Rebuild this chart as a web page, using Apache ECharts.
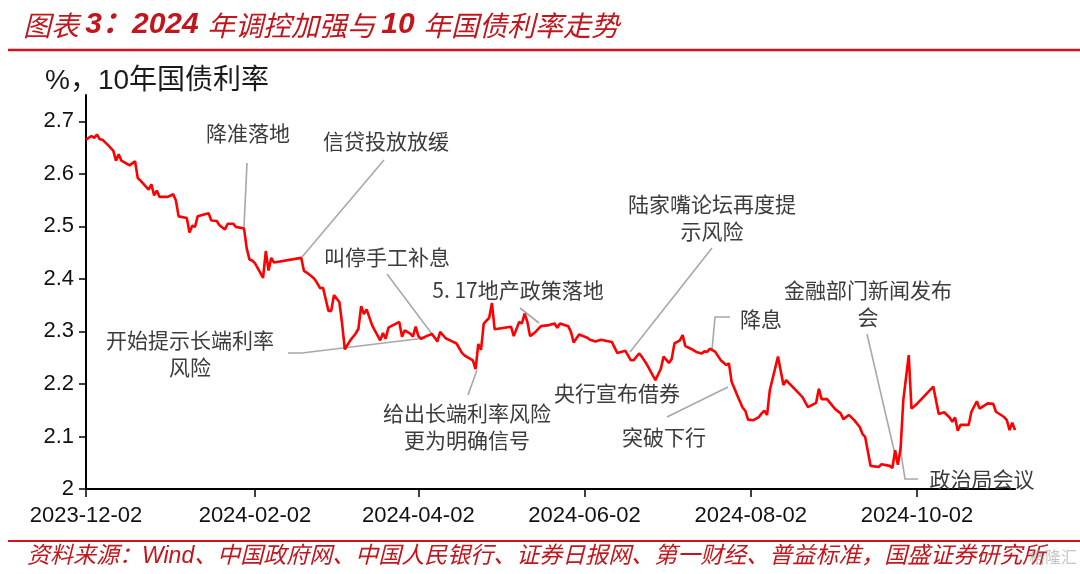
<!DOCTYPE html>
<html>
<head>
<meta charset="UTF-8">
<title>2024年调控加强与10年国债利率走势</title>
<script src="https://cdn.jsdelivr.net/npm/echarts@6/dist/echarts.min.js"></script>
<style>
	html,body{margin:0;padding:0;background:#fff;}
	#main{width:1080px;height:574px;}
</style>
</head>
<body>
<div id="main"></div>
<script>
	// axis range and tick labels
	var startDate = '2023-12-02';
	var endDate = '2024-11-07';
	var tickLabels = ['2023-12-02','2024-02-02','2024-04-02','2024-06-02','2024-08-02','2024-10-02'];
	var yTicks = [2, 2.1, 2.2, 2.3, 2.4, 2.5, 2.6, 2.7];

	// 10年国债利率, %
	var dates = [
		'2023-12-02','2023-12-04','2023-12-05','2023-12-06','2023-12-07','2023-12-08','2023-12-10','2023-12-12','2023-12-13','2023-12-14',
		'2023-12-15','2023-12-18','2023-12-20','2023-12-21','2023-12-22','2023-12-25','2023-12-26','2023-12-27','2023-12-28','2023-12-29',
		'2024-01-01','2024-01-03','2024-01-04','2024-01-05','2024-01-08','2024-01-09','2024-01-10','2024-01-11','2024-01-12','2024-01-16',
		'2024-01-17','2024-01-19','2024-01-20','2024-01-22','2024-01-23','2024-01-25','2024-01-26','2024-01-29','2024-01-30','2024-01-31',
		'2024-02-01','2024-02-02','2024-02-05','2024-02-06','2024-02-07','2024-02-08','2024-02-09','2024-02-19','2024-02-20','2024-02-21',
		'2024-02-23','2024-02-24','2024-02-26','2024-02-27','2024-02-29','2024-03-01','2024-03-02','2024-03-04','2024-03-05','2024-03-06',
		'2024-03-08','2024-03-10','2024-03-11','2024-03-12','2024-03-13','2024-03-14','2024-03-16','2024-03-17','2024-03-19','2024-03-20',
		'2024-03-21','2024-03-22','2024-03-26','2024-03-27','2024-03-28','2024-03-30','2024-03-31','2024-04-01','2024-04-02','2024-04-03',
		'2024-04-05','2024-04-07','2024-04-09','2024-04-10','2024-04-12','2024-04-14','2024-04-16','2024-04-18','2024-04-19','2024-04-22',
		'2024-04-23','2024-04-24','2024-04-25','2024-04-26','2024-04-28','2024-04-29','2024-04-30','2024-05-06','2024-05-07','2024-05-09',
		'2024-05-10','2024-05-11','2024-05-12','2024-05-13','2024-05-15','2024-05-17','2024-05-20','2024-05-22','2024-05-23','2024-05-24',
		'2024-05-27','2024-05-28','2024-05-29','2024-05-31','2024-06-03','2024-06-04','2024-06-06','2024-06-08','2024-06-12','2024-06-14',
		'2024-06-17','2024-06-19','2024-06-20','2024-06-22','2024-06-23','2024-06-25','2024-06-28','2024-06-30','2024-07-01','2024-07-03',
		'2024-07-04','2024-07-05','2024-07-07','2024-07-08','2024-07-09','2024-07-11','2024-07-13','2024-07-15','2024-07-16','2024-07-17',
		'2024-07-18','2024-07-20','2024-07-21','2024-07-22','2024-07-24','2024-07-25','2024-07-26','2024-07-28','2024-07-30','2024-07-31',
		'2024-08-01','2024-08-03','2024-08-05','2024-08-06','2024-08-07','2024-08-08','2024-08-09','2024-08-12','2024-08-14','2024-08-15',
		'2024-08-18','2024-08-21','2024-08-23','2024-08-26','2024-08-27','2024-08-28','2024-08-30','2024-09-02','2024-09-04','2024-09-05',
		'2024-09-07','2024-09-09','2024-09-11','2024-09-12','2024-09-13','2024-09-15','2024-09-18','2024-09-19','2024-09-22','2024-09-23',
		'2024-09-24','2024-09-25','2024-09-26','2024-09-27','2024-09-29','2024-09-30','2024-10-02','2024-10-08','2024-10-09','2024-10-10',
		'2024-10-12','2024-10-14','2024-10-15','2024-10-16','2024-10-17','2024-10-18','2024-10-21','2024-10-22','2024-10-24','2024-10-25',
		'2024-10-28','2024-10-30','2024-10-31','2024-11-03','2024-11-04','2024-11-05','2024-11-06','2024-11-07'
	];
	var rates = [
		2.665,2.672,2.668,2.675,2.666,2.665,2.655,2.644,2.625,2.637,
		2.625,2.616,2.624,2.592,2.587,2.570,2.580,2.559,2.568,2.556,
		2.556,2.561,2.549,2.519,2.516,2.488,2.501,2.499,2.519,2.525,
		2.511,2.510,2.502,2.494,2.505,2.505,2.499,2.496,2.458,2.437,
		2.435,2.430,2.402,2.453,2.416,2.440,2.431,2.440,2.415,2.412,
		2.404,2.399,2.382,2.383,2.339,2.339,2.369,2.356,2.315,2.266,
		2.283,2.296,2.305,2.348,2.333,2.342,2.312,2.302,2.283,2.297,
		2.286,2.307,2.318,2.290,2.302,2.296,2.290,2.309,2.291,2.286,
		2.291,2.295,2.281,2.299,2.287,2.282,2.277,2.259,2.254,2.245,
		2.228,2.276,2.265,2.315,2.326,2.354,2.304,2.309,2.291,2.318,
		2.315,2.334,2.318,2.291,2.299,2.310,2.312,2.315,2.307,2.315,
		2.310,2.299,2.279,2.294,2.288,2.284,2.281,2.284,2.280,2.259,
		2.263,2.245,2.245,2.258,2.252,2.236,2.207,2.229,2.252,2.240,
		2.248,2.277,2.283,2.293,2.272,2.267,2.261,2.258,2.262,2.261,
		2.267,2.261,2.253,2.245,2.236,2.239,2.204,2.179,2.155,2.149,
		2.132,2.131,2.137,2.144,2.149,2.141,2.188,2.252,2.198,2.207,
		2.191,2.175,2.156,2.164,2.191,2.171,2.171,2.152,2.144,2.133,
		2.141,2.131,2.118,2.105,2.099,2.044,2.042,2.047,2.044,2.040,
		2.074,2.046,2.077,2.169,2.255,2.153,2.162,2.195,2.169,2.143,
		2.146,2.136,2.128,2.136,2.111,2.122,2.122,2.147,2.167,2.153,
		2.163,2.162,2.147,2.137,2.131,2.112,2.126,2.112
	];

	// every calendar day on the axis, the series sits on its own dates
	var days = [];
	for (var t = Date.parse(startDate); t <= Date.parse(endDate); t += 86400000) {
		days.push(new Date(t).toISOString().slice(0, 10));
	}
	var lookup = {};
	for (var i = 0; i < dates.length; i++) lookup[dates[i]] = rates[i];
	var seriesData = days.map(function (d) { return d in lookup ? lookup[d] : null; });

	function isTick(index, value) { return tickLabels.indexOf(value) >= 0; }

	var noteFont = '"Noto Sans CJK SC"';
	var noteColor = '#3c3c3c';
	var leaderColor = '#a8a8a8';

	/*注释文字*/
	var notes = [
		{text: '降准落地', x: 248, y: 133},
		{text: '信贷投放放缓', x: 386, y: 141},
		{text: '叫停手工补息', x: 387, y: 257},
		{text: '5. 17地产政策落地', x: 518, y: 290},
		{text: '陆家嘴论坛再度提\n示风险', x: 712, y: 218},
		{text: '降息', x: 761, y: 319},
		{text: '金融部门新闻发布\n会', x: 868, y: 304},
		{text: '开始提示长端利率\n风险', x: 190, y: 354},
		{text: '给出长端利率风险\n更为明确信号', x: 467, y: 427},
		{text: '央行宣布借券', x: 617, y: 393},
		{text: '突破下行', x: 664, y: 437},
		{text: '政治局会议', x: 982, y: 479}
	];
	/*引线*/
	var leaders = [
		[[247,163],[244,227]],
		[[384,160],[302,257]],
		[[387,274],[438,342]],
		[[520,308],[539,323]],
		[[712,248],[630,352]],
		[[730,317],[715,317],[712,350]],
		[[867,334],[897,463]],
		[[288,353],[302,353],[425,338]],
		[[468,395],[477,370]],
		[[667,417],[728,387]],
		[[900,447],[905,479],[918,479]]
	];

	var graphics = [];
	leaders.forEach(function (pts) {
		graphics.push({type: 'polyline', shape: {points: pts}, silent: true,
			style: {stroke: leaderColor, lineWidth: 1.6, fill: null}});
	});
	notes.forEach(function (n) {
		graphics.push({type: 'text', x: n.x, y: n.y, z: 10, silent: true,
			style: {text: n.text, fill: noteColor, fontSize: 21, fontFamily: noteFont,
				align: 'center', verticalAlign: 'middle', lineHeight: 27}});
	});
	// title
	graphics.push({type: 'text', x: 23, y: 25, silent: true,
		style: {
			text: '{n|图表 }{b|3：2024 }{n|年调控加强与 }{b|10 }{n|年国债利率走势}',
			verticalAlign: 'middle',
			rich: {
				n: {fill: '#c3161c', fontSize: 28, fontStyle: 'italic', fontFamily: '"Noto Sans CJK SC"'},
				b: {fill: '#c3161c', fontSize: 30, fontStyle: 'italic', fontWeight: 'bold', fontFamily: '"Liberation Sans","Noto Sans CJK SC"'}
			}
		}});
	graphics.push({type: 'line', shape: {x1: 8, y1: 50, x2: 1080, y2: 50}, silent: true,
		style: {stroke: '#d0121b', lineWidth: 2.5}});
	// unit label
	graphics.push({type: 'text', x: 45, y: 81, silent: true,
		style: {text: '%，10年国债利率', fill: '#1a1a1a', fontSize: 28,
			fontFamily: '"Liberation Sans","Noto Sans CJK SC"', verticalAlign: 'middle'}});
	// footer
	graphics.push({type: 'line', shape: {x1: 8, y1: 541, x2: 1080, y2: 541}, silent: true,
		style: {stroke: '#d0121b', lineWidth: 2}});
	graphics.push({type: 'text', x: 27, y: 557, silent: true,
		style: {text: '资料来源：Wind、中国政府网、中国人民银行、证券日报网、第一财经、普益标准，国盛证券研究所',
			fill: '#c3161c', fontSize: 23, fontStyle: 'italic',
			fontFamily: '"Liberation Sans","Noto Sans CJK SC"', verticalAlign: 'middle'}});
	graphics.push({type: 'text', x: 1077, y: 557, silent: true, z: 20,
		style: {text: '格隆汇', fill: 'rgba(150,150,150,0.55)', fontSize: 16,
			fontFamily: '"Noto Sans CJK SC"', align: 'right', verticalAlign: 'middle'}});

	var myChart = echarts.init(document.getElementById('main'));
	var option = {
		animation: false,
		grid: {left: 86, right: 65, top: 95, bottom: 85},
		xAxis: {
			type: 'category',
			data: days,
			boundaryGap: false,
			axisLine: {lineStyle: {color: '#000', width: 2}},
			axisTick: {interval: isTick, length: 8, lineStyle: {color: '#000', width: 1.5}},
			axisLabel: {interval: isTick, margin: 16, color: '#111', fontSize: 22,
				fontFamily: '"Liberation Sans"'},
			splitLine: {show: false}
		},
		yAxis: {
			type: 'value',
			min: 2,
			max: 2.75,
			axisLine: {show: true, lineStyle: {color: '#000', width: 2}},
			axisTick: {show: true, length: 7, customValues: yTicks, lineStyle: {color: '#000', width: 1.5}},
			axisLabel: {customValues: yTicks, margin: 12, color: '#111', fontSize: 22,
				fontFamily: '"Liberation Sans"'},
			splitLine: {show: false}
		},
		series: [{
			name: '10年国债利率',
			type: 'line',
			data: seriesData,
			connectNulls: true,
			showSymbol: false,
			symbol: 'none',
			lineStyle: {color: '#ff0000', width: 2.6},
			z: 5
		}],
		graphic: graphics
	};
	myChart.setOption(option);
</script>
</body>
</html>
